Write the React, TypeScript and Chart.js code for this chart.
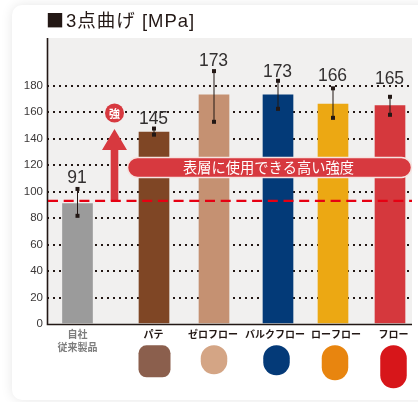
import React, { useEffect, useRef } from "react";
import { Chart, registerables } from "chart.js";

Chart.register(...registerables);

const barPositions = [77.5, 154, 214, 278, 333, 390];
const values = [91, 145, 173, 173, 166, 165];
const errorLow = [81.7, 143, 152.7, 162.5, 155.7, 158];
const errorHigh = [102, 147.6, 191, 183.7, 178, 171.6];
const valueLabelLevels = [110.5, 154.5, 198.5, 190, 187, 185];
const valueLabels = ["91", "145", "173", "173", "166", "165"];
const barColors = ["#9b9b9b", "#7f4625", "#c59172", "#033a78", "#eca813", "#d5383d"];
const swatchColors = ["#8b5f4d", "#d4a585", "#043a78", "#e8850f", "#d7161a"];
const swatchPositions = [154.5, 214, 276.5, 335, 393.5];
const swatchHeights = [32, 29, 30, 35, 43];
const swatchRadii = [8, 13, 13, 13, 13];
const categoryLabels = [["自社", "従来製品"], ["パテ"], ["ゼロフロー"], ["バルクフロー"], ["ローフロー"], ["フロー"]];
const categoryLabelPositions = [77.5, 153.5, 213, 275, 336, 393.5];
const yTicks = [0, 20, 40, 60, 80, 100, 120, 140, 160, 180];
const referenceLevel = 93;
const titleMark = "■";
const title = "3点曲げ [MPa]";
const bannerText = "表層に使用できる高い強度";
const strongLabel = "強";

const FONT = '"Liberation Sans", "Noto Sans CJK JP", sans-serif';
const JP = '"Noto Sans CJK JP", sans-serif';

const decor = {
  id: "decor",
  beforeDraw(chart: any) {
    const { ctx, chartArea: a } = chart;
    ctx.save();
    ctx.fillStyle = "#ffffff";
    ctx.fillRect(0, 0, chart.width, chart.height);
    ctx.shadowColor = "rgba(0,0,0,0.10)";
    ctx.shadowBlur = 12;
    ctx.beginPath();
    ctx.roundRect(12, 5, 440, 395, 10);
    ctx.fill();
    ctx.shadowColor = "transparent";
    ctx.fillStyle = "#f1f0ef";
    ctx.fillRect(a.left, a.top, a.right - a.left, a.bottom - a.top);
    ctx.restore();
  },
  afterDatasetsDraw(chart: any) {
    const { ctx, chartArea: a } = chart;
    const x = chart.scales.x;
    const y = chart.scales.y;
    ctx.save();

    // axes
    ctx.strokeStyle = "#231815";
    ctx.lineWidth = 1.6;
    ctx.beginPath();
    ctx.moveTo(47.5, a.top);
    ctx.lineTo(47.5, a.bottom + 0.5);
    ctx.lineTo(a.right, a.bottom + 0.5);
    ctx.stroke();

    // arrow
    const ax = 114.5;
    ctx.fillStyle = "#d7393f";
    ctx.beginPath();
    ctx.moveTo(ax - 3.8, y.getPixelForValue(referenceLevel));
    ctx.lineTo(ax - 3.8, 150);
    ctx.lineTo(ax - 12.5, 150);
    ctx.lineTo(ax, 129);
    ctx.lineTo(ax + 12.5, 150);
    ctx.lineTo(ax + 3.8, 150);
    ctx.lineTo(ax + 3.8, y.getPixelForValue(referenceLevel));
    ctx.closePath();
    ctx.fill();

    // strong badge
    ctx.beginPath();
    ctx.arc(ax, 113, 9.5, 0, Math.PI * 2);
    ctx.fill();
    ctx.fillStyle = "#ffffff";
    ctx.font = `700 11px ${JP}`;
    ctx.textAlign = "center";
    ctx.textBaseline = "middle";
    ctx.fillText(strongLabel, ax, 113.5);

    // reference line
    ctx.strokeStyle = "#e60012";
    ctx.lineWidth = 2.2;
    ctx.setLineDash([10, 5.7]);
    ctx.beginPath();
    const ry = y.getPixelForValue(referenceLevel);
    ctx.moveTo(a.left + 1, ry);
    ctx.lineTo(a.right, ry);
    ctx.stroke();
    ctx.setLineDash([]);

    // banner
    ctx.fillStyle = "#d7393f";
    ctx.strokeStyle = "#f6e3e0";
    ctx.lineWidth = 1.5;
    ctx.beginPath();
    ctx.roundRect(127.5, 157.5, 284, 20, 10);
    ctx.fill();
    ctx.stroke();
    ctx.fillStyle = "#ffffff";
    ctx.font = `400 14.25px ${JP}`;
    ctx.fillText(bannerText, 268.5, 168);

    // error bars
    ctx.fillStyle = "#231815";
    barPositions.forEach((p, i) => {
      const px = x.getPixelForValue(p);
      const lo = y.getPixelForValue(errorLow[i]);
      const hi = y.getPixelForValue(errorHigh[i]);
      ctx.strokeStyle = "#231815";
      ctx.lineWidth = 1;
      ctx.beginPath();
      ctx.moveTo(px, lo);
      ctx.lineTo(px, hi);
      ctx.stroke();
      ctx.fillRect(px - 2, lo - 2, 4, 4);
      ctx.fillRect(px - 2, hi - 2, 4, 4);
    });

    // value labels
    ctx.fillStyle = "#333030";
    ctx.font = `400 17.5px ${FONT}`;
    barPositions.forEach((p, i) => {
      ctx.fillText(valueLabels[i], x.getPixelForValue(p) - 0.5, y.getPixelForValue(valueLabelLevels[i]));
    });

    // title
    ctx.fillStyle = "#231815";
    ctx.textAlign = "left";
    ctx.textBaseline = "alphabetic";
    ctx.font = `400 18px ${JP}`;
    ctx.fillText(titleMark, 46, 27);
    ctx.font = `400 18.5px ${FONT}`;
    (ctx as any).letterSpacing = "1px";
    ctx.fillText(title, 66, 27);
    (ctx as any).letterSpacing = "0px";

    // material swatches
    swatchPositions.forEach((p, i) => {
      const w = i === 0 ? 32 : 26.5;
      ctx.fillStyle = swatchColors[i];
      ctx.beginPath();
      ctx.roundRect(x.getPixelForValue(p) - w / 2, 345.3, w, swatchHeights[i], swatchRadii[i]);
      ctx.fill();
    });
    ctx.restore();
  },
};

export default function App() {
  const ref = useRef<HTMLCanvasElement>(null);
  useEffect(() => {
    const chart = new Chart(ref.current!, {
      type: "bar",
      data: {
        datasets: [
          {
            data: barPositions.map((p, i) => ({ x: p, y: values[i] })),
            backgroundColor: barColors,
            barThickness: 30,
          },
        ],
      },
      options: {
        animation: false,
        responsive: false,
        layout: { padding: { top: 38, right: 6, left: 0, bottom: 0 } },
        plugins: { legend: { display: false }, tooltip: { enabled: false } },
        scales: {
          x: {
            type: "linear",
            offset: false,
            min: 47,
            max: 412,
            grid: { display: false, drawTicks: false, tickLength: 0 },
            border: { display: false },
            afterFit: (s: any) => { s.height = 78; },
            afterBuildTicks: (s: any) => {
              s.ticks = categoryLabelPositions.map((v) => ({ value: v }));
            },
            ticks: {
              autoSkip: false,
              maxRotation: 0,
              padding: 3,
              color: (c: any) => (c.index === 0 ? "#7d7d7d" : "#231815"),
              font: { family: JP, size: 10, weight: "700", lineHeight: 1.35 },
              callback: (_v: any, i: number) => categoryLabels[i],
            },
          },
          y: {
            min: 0,
            max: 216,
            afterFit: (s: any) => { s.width = 47; },
            afterBuildTicks: (s: any) => {
              s.ticks = yTicks.map((v) => ({ value: v }));
            },
            border: { display: false, dash: [2, 4] },
            grid: {
              color: (c: any) => (c.tick && c.tick.value === 0 ? "transparent" : "#231815"),
              lineWidth: 2,
              tickLength: 0,
              drawTicks: false,
            },
            ticks: {
              padding: 4,
              color: "#3b3838",
              font: { family: FONT, size: 11.5 },
            },
          },
        },
      },
      plugins: [decor],
    } as any);
    return () => chart.destroy();
  }, []);
  return (
    <canvas
      ref={ref}
      width={418}
      height={402}
      style={{ position: "fixed", left: 0, top: 0, width: 418, height: 402 }}
    />
  );
}
